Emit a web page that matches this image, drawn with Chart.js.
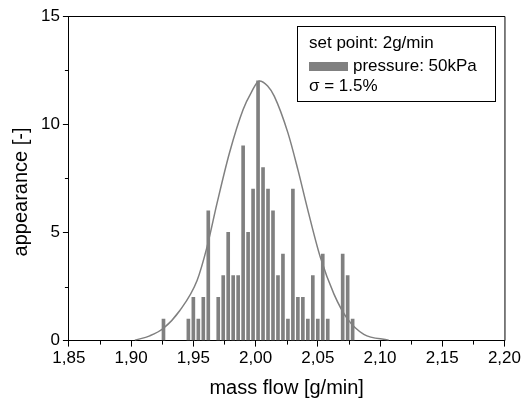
<!DOCTYPE html>
<html>
<head>
<meta charset="utf-8">
<script src="https://cdn.jsdelivr.net/npm/chart.js@4/dist/chart.umd.min.js"></script>
<style>
  html, body { margin: 0; padding: 0; background: #fff; }
  #wrap { width: 523px; height: 400px; }
</style>
</head>
<body>
<div id="wrap"><canvas id="myChart"></canvas></div>
<script>
// histogram bins (bin centre, g/min) and counts
const binCenters = [1.926, 1.946, 1.950, 1.954, 1.958, 1.962, 1.970, 1.974, 1.978, 1.982, 1.986,
  1.990, 1.994, 1.998, 2.002, 2.006, 2.010, 2.014, 2.018, 2.022, 2.026, 2.030, 2.034, 2.038,
  2.042, 2.046, 2.050, 2.054, 2.058, 2.070, 2.074, 2.078]
const counts = [1, 1, 2, 1, 2, 6, 2, 3, 5, 3, 3,
  9, 5, 7, 12, 8, 7, 6, 3, 4, 1, 7, 2, 2,
  1, 3, 1, 4, 1, 4, 3, 1]

// fitted normal curve
const curveX = [1.903, 1.915, 1.926, 1.939, 1.953, 1.961, 1.969, 1.979, 1.990, 1.9965, 2.003,
  2.0097, 2.015, 2.026, 2.034, 2.042, 2.052, 2.063, 2.074, 2.087, 2.107]
const curveY = [0.02, 0.22, 0.57, 1.38, 2.78, 4.33, 6.34, 8.67, 10.68, 11.46, 12.0,
  11.77, 11.3, 9.6, 7.9, 6.03, 3.86, 2.15, 0.99, 0.29, 0.02]

const legendLines = ['set point: 2g/min', 'pressure: 50kPa', '\u03c3 = 1.5%']
const yTitle = 'appearance [-]'
const xTitle = 'mass flow [g/min]'

const gray = '#808080'
const fontFamily = '"Liberation Sans", Arial, sans-serif'

let barData = binCenters.map((x, i) => ({ x: x, y: counts[i] }))
let curveData = curveX.map((x, i) => ({ x: x, y: curveY[i] }))

// minor ticks, top/right frame, y title and the legend box
const extras = {
  id: 'extras',
  afterDraw(chart) {
    const ctx = chart.ctx
    const area = chart.chartArea
    const xs = chart.scales.x
    const ys = chart.scales.y
    ctx.save()
    ctx.strokeStyle = '#000'
    ctx.lineWidth = 1
    ctx.beginPath()
    ctx.moveTo(area.left, area.top + 0.5)
    ctx.lineTo(area.right + 0.5, area.top + 0.5)
    ctx.lineTo(area.right + 0.5, area.bottom)
    ctx.stroke()

    // minor ticks halfway between major ones
    ctx.beginPath()
    for (let i = 0; i < xs.ticks.length - 1; i++) {
      let v = (xs.ticks[i].value + xs.ticks[i + 1].value) / 2
      let px = Math.round(xs.getPixelForValue(v)) + 0.5
      ctx.moveTo(px, area.bottom)
      ctx.lineTo(px, area.bottom + 4)
    }
    for (let i = 0; i < ys.ticks.length - 1; i++) {
      let v = (ys.ticks[i].value + ys.ticks[i + 1].value) / 2
      let py = Math.round(ys.getPixelForValue(v)) + 0.5
      ctx.moveTo(area.left, py)
      ctx.lineTo(area.left - 4, py)
    }
    ctx.stroke()

    // y axis title (sits a bit below the middle in the original)
    ctx.fillStyle = '#000'
    ctx.font = '20px ' + fontFamily
    ctx.textAlign = 'center'
    ctx.textBaseline = 'middle'
    ctx.translate(21, 192)
    ctx.rotate(-Math.PI / 2)
    ctx.fillText(yTitle, 0, 0)
    ctx.setTransform(1, 0, 0, 1, 0, 0)

    // legend box
    let bx = 297.5, by = 26.5, bw = 198, bh = 75
    ctx.fillStyle = '#fff'
    ctx.fillRect(bx, by, bw, bh)
    ctx.strokeRect(bx, by, bw, bh)
    ctx.fillStyle = '#000'
    ctx.font = '17px ' + fontFamily
    ctx.textAlign = 'left'
    ctx.fillText(legendLines[0], 309, 43)
    ctx.fillStyle = gray
    ctx.fillRect(309, 62, 39, 9)
    ctx.fillStyle = '#000'
    ctx.fillText(legendLines[1], 353, 66)
    ctx.fillText(legendLines[2], 309, 86)
    ctx.restore()
  }
}

const chart1 = document.querySelector('#myChart')

let content = {
  data: {
    datasets: [
      {
        type: 'line',
        data: curveData,
        borderColor: gray,
        borderWidth: 1.5,
        pointRadius: 0,
        fill: false,
        cubicInterpolationMode: 'monotone',
        order: 0
      },
      {
        type: 'bar',
        data: barData,
        backgroundColor: gray,
        borderWidth: 0,
        barThickness: 3,
        order: 1
      }
    ]
  },
  options: {
    responsive: true,
    maintainAspectRatio: false,
    animation: false,
    devicePixelRatio: 1,
    layout: { padding: { top: 16, right: 0, left: 38, bottom: 0 } },
    plugins: {
      legend: { display: false },
      tooltip: { enabled: false }
    },
    scales: {
      x: {
        type: 'linear',
        offset: false,
        min: 1.85,
        max: 2.20,
        ticks: {
          stepSize: 0.05,
          color: '#000',
          font: { family: fontFamily, size: 17 },
          padding: 2,
          maxRotation: 0,
          callback: v => v.toFixed(2).replace('.', ',')
        },
        grid: { offset: false, drawOnChartArea: false, tickLength: 6, color: '#000' },
        border: { color: '#000', width: 1 },
        title: {
          display: true,
          text: xTitle,
          color: '#000',
          font: { family: fontFamily, size: 20 },
          padding: { top: 5, bottom: 0 }
        }
      },
      y: {
        min: 0,
        max: 15,
        ticks: {
          stepSize: 5,
          color: '#000',
          font: { family: fontFamily, size: 17 },
          padding: 3
        },
        grid: { drawOnChartArea: false, tickLength: 6, color: '#000' },
        border: { color: '#000', width: 1 }
      }
    }
  },
  plugins: [extras]
}

let histChart = new Chart(chart1, content)
</script>
</body>
</html>
